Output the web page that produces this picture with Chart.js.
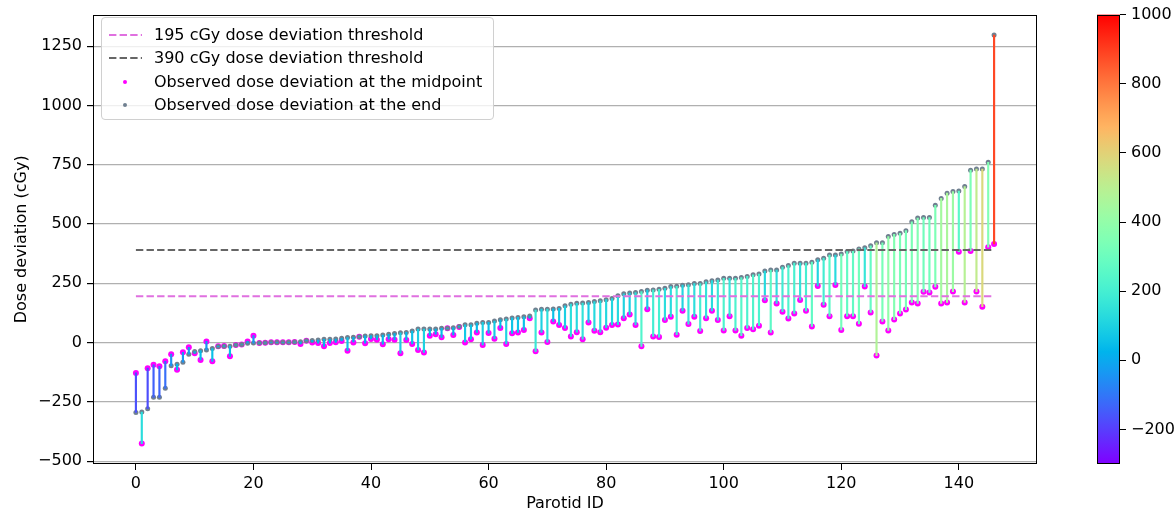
<!DOCTYPE html>
<html>
<head>
<meta charset="utf-8">
<script src="https://cdn.jsdelivr.net/npm/chart.js@4.4.1/dist/chart.umd.min.js"></script>
<style>
  body { margin: 0; background: #fff; }
  #wrap { position: relative; width: 1176px; height: 516px; font-family: "DejaVu Sans", sans-serif; }
  #main { position: absolute; left: 0; top: 0; }
  #cbar { position: absolute; left: 1060px; top: 0; }
  #legend {
    position: absolute; left: 101px; top: 17px; width: 391px; height: 101px;
    border: 1px solid #d0d0d0; border-radius: 4px; background: rgba(255,255,255,0.8);
    font-size: 16px; color: #000;
  }
  #legend .row { position: absolute; left: 0; height: 20px; line-height: 20px; white-space: nowrap; }
  #legend svg { position: absolute; left: 6px; top: 5px; }
  #legend span { position: absolute; left: 52px; top: 0; }
</style>
</head>
<body>
<div id="wrap">
  <canvas id="main" width="1060" height="516"></canvas>
  <canvas id="cbar" width="116" height="516"></canvas>
  <div id="legend"></div>
</div>
<script>
// dose deviation (cGy) per parotid, index = parotid ID
const endDose = [
  -295, -293, -279, -231, -231, -193, -98, -91, -83, -49,
  -38, -34, -31, -25, -17, -16, -15, -10, -8, -3,
  -2, -2, -1, 1, 1, 1, 1, 2, 3, 8,
  9, 11, 14, 14, 15, 18, 21, 22, 25, 28,
  29, 29, 32, 35, 38, 41, 43, 49, 57, 57,
  57, 57, 60, 60, 63, 68, 75, 75, 82, 85,
  85, 91, 96, 99, 104, 106, 109, 112, 137, 141,
  141, 142, 144, 155, 162, 166, 167, 169, 173, 176,
  181, 186, 197, 206, 209, 211, 215, 221, 222, 225,
  229, 236, 237, 242, 244, 249, 249, 256, 261, 264,
  271, 271, 271, 274, 279, 286, 289, 302, 306, 306,
  318, 325, 335, 335, 335, 339, 349, 356, 369, 369,
  373, 384, 386, 395, 400, 408, 421, 421, 447, 456,
  461, 472, 509, 525, 527, 527, 579, 608, 630, 637,
  639, 658, 727, 732, 732, 760, 1297
];
const midDose = [
  -128, -426, -108, -94, -100, -79, -49, -115, -41, -20,
  -45, -73, 5, -79, -16, -14, -58, -10, -8, 5,
  29, -2, -1, 1, 1, 1, 1, 2, -6, 8,
  0, -2, -16, -2, 1, 7, -34, 0, 25, -3,
  15, 12, -7, 14, 12, -45, 11, -6, -31, -42,
  29, 35, 22, 60, 32, 66, 0, 14, 43, -10,
  40, 16, 61, -6, 39, 43, 53, 103, -37, 43,
  2, 89, 74, 61, 26, 44, 14, 85, 50, 44,
  63, 74, 76, 103, 118, 74, -16, 141, 26, 23,
  95, 109, 33, 134, 78, 109, 49, 103, 134, 95,
  51, 111, 51, 29, 61, 56, 71, 179, 43, 165,
  130, 102, 123, 180, 134, 68, 239, 159, 111, 243,
  53, 111, 111, 79, 236, 127, -55, 89, 51, 97,
  123, 139, 169, 165, 214, 211, 235, 165, 169, 215,
  383, 169, 386, 215, 151, 402, 416
];
const thresholds = [195, 390];
const thresholdColors = ['#e070e0', '#666666'];
const xTicks = [0, 20, 40, 60, 80, 100, 120, 140];
const yTicks = [-500, -250, 0, 250, 500, 750, 1000, 1250];
const cbarTicks = [-200, 0, 200, 400, 600, 800, 1000];
const colorMin = -300, colorMax = 1000;
const legendLabels = [
  '195 cGy dose deviation threshold',
  '390 cGy dose deviation threshold',
  'Observed dose deviation at the midpoint',
  'Observed dose deviation at the end'
];

// matplotlib "rainbow"
function rainbow(t) {
  t = Math.min(1, Math.max(0, t));
  const c = v => Math.round(255 * Math.min(1, Math.max(0, v)));
  return 'rgb(' + c(Math.abs(2 * t - 0.5)) + ',' + c(Math.sin(Math.PI * t)) + ',' + c(Math.cos(Math.PI * t / 2)) + ')';
}
const norm = v => (v - colorMin) / (colorMax - colorMin);
const fmt = v => (v < 0 ? '\u2212' + Math.abs(v) : String(v));

Chart.defaults.font.family = "'DejaVu Sans', sans-serif";
Chart.defaults.font.size = 16;
Chart.defaults.color = '#000';

const frame = {
  id: 'frame',
  afterDraw(chart) {
    const a = chart.chartArea, c = chart.ctx;
    c.save();
    c.strokeStyle = '#000';
    c.lineWidth = 1;
    c.strokeRect(Math.round(a.left) + 0.5, Math.round(a.top) + 0.5, Math.round(a.right - a.left) - 1, Math.round(a.bottom - a.top) - 1);
    c.restore();
  }
};

const maxId = endDose.length - 1;

new Chart(document.getElementById('main'), {
  type: 'scatter',
  data: {
    datasets: [
      {
        type: 'line',
        data: [{ x: 0, y: thresholds[0] }, { x: maxId, y: thresholds[0] }],
        borderColor: thresholdColors[0], borderWidth: 2, borderDash: [7.4, 3.2],
        pointRadius: 0, order: 0
      },
      {
        type: 'line',
        data: [{ x: 0, y: thresholds[1] }, { x: maxId, y: thresholds[1] }],
        borderColor: thresholdColors[1], borderWidth: 2, borderDash: [7.4, 3.2],
        pointRadius: 0, order: 0
      },
      {
        type: 'bar',
        data: endDose.map((v, i) => ({ x: i, y: [midDose[i], v] })),
        backgroundColor: endDose.map((v, i) => rainbow(norm(v - midDose[i]))),
        barThickness: 1.5, borderWidth: 0, order: 1
      },
      {
        type: 'scatter',
        data: endDose.map((v, i) => ({ x: i, y: v })),
        pointRadius: 2.5, pointBackgroundColor: '#708090', pointBorderWidth: 0, order: 2
      },
      {
        type: 'scatter',
        data: midDose.map((v, i) => ({ x: i, y: v })),
        pointRadius: 3, pointBackgroundColor: '#ff00ff', pointBorderWidth: 0, order: 3
      }
    ]
  },
  options: {
    responsive: false,
    animation: false,
    events: [],
    layout: { padding: { left: 0, right: 23, top: 12, bottom: 0 } },
    plugins: { legend: { display: false }, tooltip: { enabled: false } },
    scales: {
      x: {
        type: 'linear', min: -7.3, max: 153.3, offset: false,
        afterBuildTicks: s => { s.ticks = xTicks.map(v => ({ value: v })); },
        afterFit: s => { s.height = 52; },
        grid: { drawOnChartArea: false, tickColor: '#000', tickLength: 6, offset: false },
        border: { display: false },
        ticks: { padding: 4, maxRotation: 0, autoSkip: false },
        title: { display: true, text: 'Parotid ID', padding: { top: 0, bottom: 3 } }
      },
      y: {
        type: 'linear', min: -512, max: 1383,
        afterBuildTicks: s => { s.ticks = yTicks.map(v => ({ value: v })); },
        afterFit: s => { s.width = 93; },
        grid: { color: '#b0b0b0', lineWidth: 1.2, tickColor: '#000', tickLength: 6 },
        border: { display: false },
        ticks: { padding: 5, callback: v => fmt(v) },
        title: { display: true, text: 'Dose deviation (cGy)', padding: { top: 12, bottom: 0 } }
      }
    }
  },
  plugins: [frame]
});

new Chart(document.getElementById('cbar'), {
  type: 'bar',
  data: {
    labels: [''],
    datasets: [{
      data: [[colorMin, colorMax]],
      backgroundColor: ctx => {
        const ch = ctx.chart, ys = ch.scales.y;
        if (!ch.chartArea || !ys) return rainbow(0.5);
        const g = ch.ctx.createLinearGradient(0, ys.getPixelForValue(colorMin), 0, ys.getPixelForValue(colorMax));
        for (let k = 0; k <= 40; k++) g.addColorStop(k / 40, rainbow(k / 40));
        return g;
      },
      barPercentage: 1, categoryPercentage: 1, borderWidth: 0
    }]
  },
  options: {
    responsive: false,
    animation: false,
    events: [],
    layout: { padding: { left: 37, right: 0, top: 12, bottom: 52 } },
    plugins: { legend: { display: false }, tooltip: { enabled: false } },
    scales: {
      x: { display: false },
      y: {
        position: 'right', min: colorMin, max: colorMax,
        afterBuildTicks: s => { s.ticks = cbarTicks.map(v => ({ value: v })); },
        afterFit: s => { s.width = 56; },
        grid: { drawOnChartArea: false, tickColor: '#000', tickLength: 6 },
        border: { display: false },
        ticks: { padding: 5, callback: v => fmt(v) }
      }
    }
  },
  plugins: [frame]
});

// legend box
const legendEl = document.getElementById('legend');
const rowCenters = [17, 40.4, 63.8, 87.2];
legendLabels.forEach((label, i) => {
  const row = document.createElement('div');
  row.className = 'row';
  row.style.top = (rowCenters[i] - 10) + 'px';
  let marker;
  if (i < 2) {
    marker = '<svg width="40" height="10"><line x1="1" y1="5" x2="34" y2="5" stroke="' + thresholdColors[i] +
      '" stroke-width="2" stroke-dasharray="7.4 3.2"/></svg>';
  } else {
    const col = i === 2 ? '#ff00ff' : '#708090';
    marker = '<svg width="40" height="10"><circle cx="17" cy="5" r="2" fill="' + col + '"/></svg>';
  }
  row.innerHTML = marker + '<span>' + label + '</span>';
  legendEl.appendChild(row);
});
</script>
</body>
</html>
